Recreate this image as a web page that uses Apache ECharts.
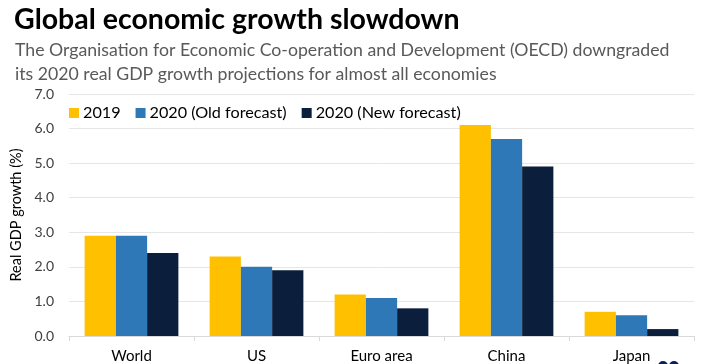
<!DOCTYPE html>
<html><head><meta charset="utf-8">
<script src="https://cdn.jsdelivr.net/npm/echarts@6/dist/echarts.min.js"></script>
<style>html,body{margin:0;padding:0;background:#fff}#c{width:704px;height:364px}</style>
</head><body><div id="c"></div>
<script>
var categories = ['World', 'US', 'Euro area', 'China', 'Japan'];
var seriesNames = ['2019', '2020 (Old forecast)', '2020 (New forecast)'];
var v2019 = [2.9, 2.3, 1.2, 6.1, 0.7];
var v2020old = [2.9, 2.0, 1.1, 5.7, 0.6];
var v2020new = [2.4, 1.9, 0.8, 4.9, 0.2];
var yTicks = ['0.0','1.0','2.0','3.0','4.0','5.0','6.0','7.0'];
var colors = ['#FFC000', '#2E78B8', '#0B1F3C'];
var FONT = 'Lato';
var chart = echarts.init(document.getElementById('c'));
var vals = [v2019, v2020old, v2020new];
chart.setOption({
  animation: false,
  textStyle: {fontFamily: FONT},
  title: [
    {text: 'Global economic growth slowdown', left: 9, top: 0,
     textStyle: {fontSize: 28.5, fontWeight: 'bold', color: '#000', fontFamily: FONT}},
    {text: 'The Organisation for Economic Co-operation and Development (OECD) downgraded\nits 2020 real GDP growth projections for almost all economies',
     left: 10, top: 33,
     textStyle: {fontSize: 17.7, fontWeight: 'normal', color: '#595959', lineHeight: 24, fontFamily: FONT}}
  ],
  legend: {
    data: seriesNames, left: 64, top: 100, itemWidth: 10, itemHeight: 10, itemGap: 15,
    icon: 'rect', textStyle: {fontSize: 16.2, color: '#000', fontFamily: FONT, padding: [0,0,0,-1]}
  },
  grid: {left: 69, right: 10, top: 94, bottom: 26},
  xAxis: {
    type: 'category', data: categories,
    axisLine: {lineStyle: {color: '#D9D9D9'}},
    axisTick: {show: true, lineStyle: {color: '#D9D9D9'}, length: 5},
    axisLabel: {color: '#000', fontSize: 15, margin: 13, fontFamily: FONT}
  },
  yAxis: {
    type: 'value', min: 0, max: 7, interval: 1,
    name: 'Real GDP growth (%)', nameLocation: 'middle', nameGap: 41, nameRotate: 90,
    nameTextStyle: {fontSize: 14.5, color: '#000', fontFamily: FONT},
    axisLabel: {color: '#404040', fontSize: 14, margin: 15, fontFamily: FONT,
      formatter: function (v) { return yTicks[Math.round(v)]; }},
    splitLine: {lineStyle: {color: '#E6E6E6'}},
    axisLine: {show: false}, axisTick: {show: false}
  },
  series: seriesNames.map(function (n, i) {
    return {name: n, type: 'bar', data: vals[i], barGap: '0%', barCategoryGap: '25%',
      itemStyle: {color: colors[i]}};
  }),
  graphic: [
    {type: 'circle', shape: {cx: 663, cy: 366, r: 5}, style: {fill: '#0B1F5C'}},
    {type: 'circle', shape: {cx: 674, cy: 366, r: 5}, style: {fill: '#0B1F5C'}}
  ]
});
</script></body></html>
